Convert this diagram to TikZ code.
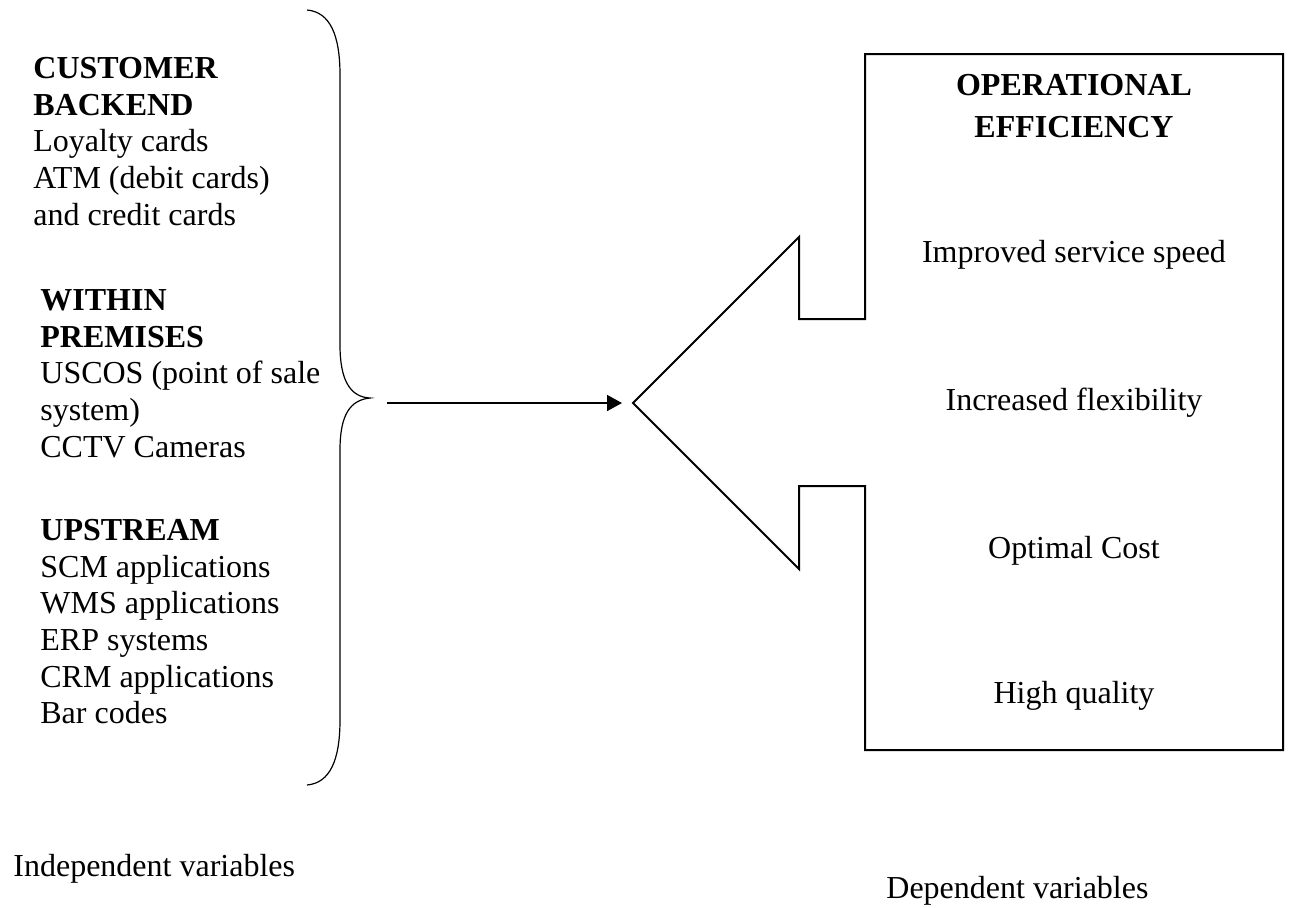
\documentclass[tikz,border=0pt]{standalone}
\usepackage{fontspec}
\setmainfont{Liberation Serif}
\usetikzlibrary{arrows.meta}
\begin{document}
\begin{tikzpicture}[%
x=0.5pt, y=-0.5pt,
every node/.style={font=\fontsize{16}{18.35}\selectfont, inner sep=0pt},
liste/.style={anchor=north west, align=left},
effekt/.style={anchor=base},
klamme/.style={line width=0.6pt},
omriss/.style={line width=1pt, line join=miter},
pil/.style={-{Triangle[length=7.5pt,width=8pt]}, line width=0.8pt, shorten <=8.5pt, shorten >=5.5pt}]
\useasboundingbox (0,0) rectangle (1303,907);
\node [liste] (kunde)     at (33,52.3)  {\strut\textbf{CUSTOMER}\\\textbf{BACKEND}\\Loyalty cards\\ATM (debit cards)\\and credit cards};
\node [liste] (lokale)    at (40,284.3) {\strut\textbf{WITHIN}\\\textbf{PREMISES}\\USCOS (point of sale\\system)\\CCTV Cameras};
\node [liste] (oppstroms) at (40,514.3) {\strut\textbf{UPSTREAM}\\SCM applications\\WMS applications\\ERP systems\\CRM applications\\Bar codes};
\node [anchor=base west] (uavh) at (13,876)  {Independent variables};
\node [anchor=base west] (avh)  at (886,898) {Dependent variables};
\node [anchor=north, align=center, font=\bfseries\fontsize{16}{21}\selectfont] (opeff) at (1074,65.6) {\strut OPERATIONAL\\EFFICIENCY};
\node [effekt] (fart)  at (1074,262) {Improved service speed};
\node [effekt] (fleks) at (1074,410) {Increased flexibility};
\node [effekt] (kost)  at (1074,558) {Optimal Cost};
\node [effekt] (kval)  at (1074,703) {High quality};
\coordinate (klammespiss) at (370,398);
\draw [klamme] (307,10) .. controls (330,12) and (340,35) .. (340,75) -- (340,345)
  .. controls (340,380) and (350,397) .. (klammespiss)
  .. controls (350,400) and (340,415) .. (340,450) -- (340,720)
  .. controls (340,760) and (330,783) .. (307,785);
\draw [omriss] (633,403) coordinate (spiss) -- (799,237) -- (799,319) -- (865,319) -- (865,54)
  -- (1283,54) -- (1283,750) -- (865,750) -- (865,486) -- (799,486) -- (799,569) -- cycle;
\draw [pil] (klammespiss |- spiss) -- (spiss);
\end{tikzpicture}
\end{document}
